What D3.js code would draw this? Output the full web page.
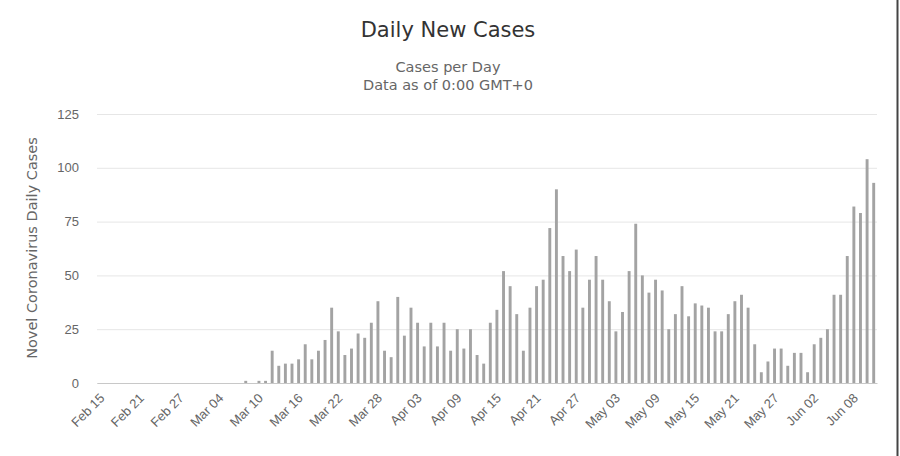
<!DOCTYPE html>
<html>
<head>
<meta charset="utf-8">
<script src="https://cdn.jsdelivr.net/npm/d3@7/dist/d3.min.js"></script>
<style>
  html, body { margin: 0; padding: 0; background: #fff; }
  svg { display: block; font-family: "DejaVu Sans", sans-serif; }
</style>
</head>
<body>
<svg id="chart" width="900" height="456"></svg>
<script>
// ---- data ----
const startDay = "2020-02-15";
const dailyCases = [
  0,0,0,0,0,0,0,0,0,0, 0,0,0,0,0,0,0,0,0,0, 0,0,1,0,1,1,15,8,9,9,
  11,18,11,15,20,35,24,13,16,23, 21,28,38,15,12,40,22,35,28,17,
  28,17,28,15,25,16,25,13,9,28, 34,52,45,32,15,35,45,48,72,90,
  59,52,62,35,48,59,48,38,24,33, 52,74,50,42,48,43,25,32,45,31,
  37,36,35,24,24,32,38,41,35,18, 5,10,16,16,8,14,14,5,18,21,
  25,41,41,59,82,79,104,93
];
const tickLabels = ["Feb 15","Feb 21","Feb 27","Mar 04","Mar 10","Mar 16","Mar 22","Mar 28",
  "Apr 03","Apr 09","Apr 15","Apr 21","Apr 27","May 03","May 09","May 15","May 21","May 27",
  "Jun 02","Jun 08"];
const yTicks = [0,25,50,75,100,125];
const titleText = "Daily New Cases";
const subtitleLines = ["Cases per Day", "Data as of 0:00 GMT+0"];
const yAxisTitle = "Novel Coronavirus Daily Cases";

// categories (one per day)
const fmt = d3.timeFormat("%b %d");
const start = d3.timeParse("%Y-%m-%d")(startDay);
const categories = d3.timeDay.range(start, d3.timeDay.offset(start, dailyCases.length)).map(fmt);

// ---- layout ----
const svg = d3.select("#chart");
const mLeft = 97, mRight = 877, mTop = 114, mBottom = 383;

const x = d3.scaleBand().domain(categories).range([mLeft, mRight]).padding(0);
const y = d3.scaleLinear().domain([0, 125]).range([mBottom, mTop]);

// right border
svg.append("line").attr("x1", 897.5).attr("x2", 897.5).attr("y1", 0).attr("y2", 456)
  .attr("stroke", "#444").attr("stroke-width", 2);

// gridlines + y labels
const yAxis = svg.append("g").attr("transform", `translate(${mLeft},0)`)
  .call(d3.axisLeft(y).tickValues(yTicks).tickSize(-(mRight - mLeft)).tickPadding(18));
yAxis.select(".domain").remove();
yAxis.selectAll(".tick line").attr("stroke", "#e6e6e6").attr("stroke-width", 1);
yAxis.selectAll(".tick text").attr("fill", "#666").attr("font-size", 13);

// bars
const barW = x.bandwidth() * 0.44;
svg.append("g").selectAll("rect").data(dailyCases).join("rect")
  .attr("x", (d, i) => x(categories[i]) + (x.bandwidth() - barW) / 2)
  .attr("width", barW)
  .attr("y", d => y(d))
  .attr("height", d => y(0) - y(d))
  .attr("fill", "#a3a3a3");

// x axis
const xAxis = svg.append("g").attr("transform", `translate(0,${mBottom})`)
  .call(d3.axisBottom(x).tickValues(tickLabels).tickSize(0).tickPadding(0));
xAxis.select(".domain").attr("stroke", "#c8c8c8").attr("stroke-width", 1);
xAxis.selectAll(".tick text")
  .attr("fill", "#666").attr("font-size", 13)
  .attr("text-anchor", "end")
  .attr("dy", 0).attr("y", 0)
  .attr("transform", "translate(5,16) rotate(-45)");

// titles
svg.append("text").attr("x", 448).attr("y", 37).attr("text-anchor", "middle")
  .attr("fill", "#333").attr("font-size", 21).text(titleText);
svg.append("g").selectAll("text").data(subtitleLines).join("text")
  .attr("x", 448).attr("y", (d, i) => 72 + i * 18).attr("text-anchor", "middle")
  .attr("fill", "#666").attr("font-size", 14.5).text(d => d);

svg.append("text")
  .attr("transform", "translate(37,248) rotate(-90)")
  .attr("text-anchor", "middle").attr("fill", "#666").attr("font-size", 14.5)
  .text(yAxisTitle);
</script>
</body>
</html>
